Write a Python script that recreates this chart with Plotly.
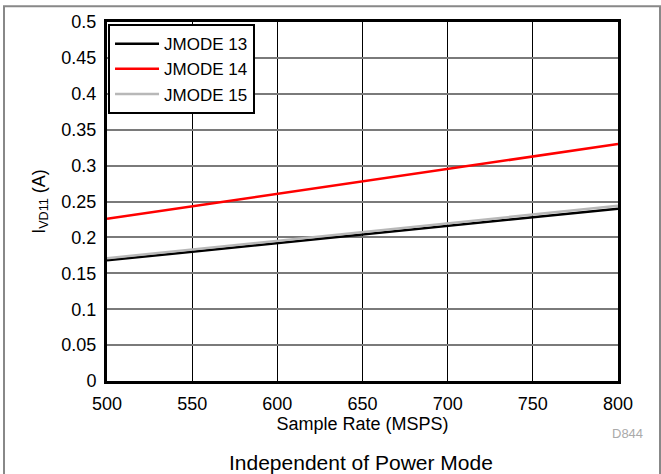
import plotly.graph_objects as go

sample_rate = [500, 600, 700, 800]
jmode13 = [0.168, 0.192, 0.216, 0.240]
jmode14 = [0.226, 0.261, 0.296, 0.330]
jmode15 = [0.171, 0.195, 0.220, 0.244]

x_ticks = [500, 550, 600, 650, 700, 750, 800]
y_ticks = [0, 0.05, 0.1, 0.15, 0.2, 0.25, 0.3, 0.35, 0.4, 0.45, 0.5]
y_tick_text = ["0", "0.05", "0.1", "0.15", "0.2", "0.25", "0.3", "0.35", "0.4", "0.45", "0.5"]

FONT = "Liberation Sans, Arial, Helvetica, sans-serif"
PW, PH = 511, 362  # plot area size in px

fig = go.Figure()
fig.add_trace(go.Scatter(x=sample_rate, y=jmode13, mode="lines", name="JMODE 13",
                         line=dict(color="#000000", width=2.5)))
fig.add_trace(go.Scatter(x=sample_rate, y=jmode14, mode="lines", name="JMODE 14",
                         line=dict(color="#ff0000", width=2.5)))
fig.add_trace(go.Scatter(x=sample_rate, y=jmode15, mode="lines", name="JMODE 15",
                         line=dict(color="#b8b8b8", width=2.5)))

fig.update_layout(
    width=661, height=474,
    margin=dict(l=107, r=43, t=19, b=93),
    paper_bgcolor="white", plot_bgcolor="white",
    font=dict(family=FONT, size=18, color="black"),
    showlegend=True,
    legend=dict(x=0.002, y=0.994, xanchor="left", yanchor="top",
                bgcolor="white", bordercolor="black", borderwidth=2,
                font=dict(size=17, family=FONT), tracegroupgap=0,
                itemwidth=44),
    xaxis=dict(range=[500, 800], tickvals=x_ticks, ticks="", showline=True,
               linecolor="black", linewidth=3, mirror=True,
               showgrid=True, gridcolor="black", gridwidth=1, zeroline=False,
               tickfont=dict(size=18), ticklabelstandoff=4,
               title=dict(text="Sample Rate (MSPS)", font=dict(size=18), standoff=0)),
    yaxis=dict(range=[0, 0.5], tickvals=y_ticks, ticktext=y_tick_text, ticks="",
               showline=True, linecolor="black", linewidth=3, mirror=True,
               showgrid=True, gridcolor="#7a7a7a", gridwidth=2, zeroline=False,
               tickfont=dict(size=18), ticklabelstandoff=4,
               title=dict(text="I<sub>VD11</sub> (A)", font=dict(size=18), standoff=12)),
    shapes=[dict(type="rect", xref="paper", yref="paper",
                 x0=-103 / PW, x1=(660 - 107) / PW, y0=-(474 - 381 + 10) / PH, y1=1 + 16 / PH,
                 line=dict(color="#888888", width=2), fillcolor="rgba(0,0,0,0)", layer="below")],
    annotations=[
        dict(text="D844", xref="paper", yref="paper", x=(627 - 107) / PW, y=-(434 - 381) / PH,
             xanchor="center", yanchor="middle", showarrow=False,
             font=dict(size=13, color="#aaaaaa", family=FONT)),
        dict(text="Independent of Power Mode", xref="paper", yref="paper",
             x=(361 - 107) / PW, y=-(463 - 381) / PH, xanchor="center", yanchor="middle",
             showarrow=False, font=dict(size=21, color="black", family=FONT)),
    ],
)

fig.write_html("out.html", config={"displayModeBar": False},
               post_script="document.body.style.margin='0';document.body.style.overflow='hidden';")
